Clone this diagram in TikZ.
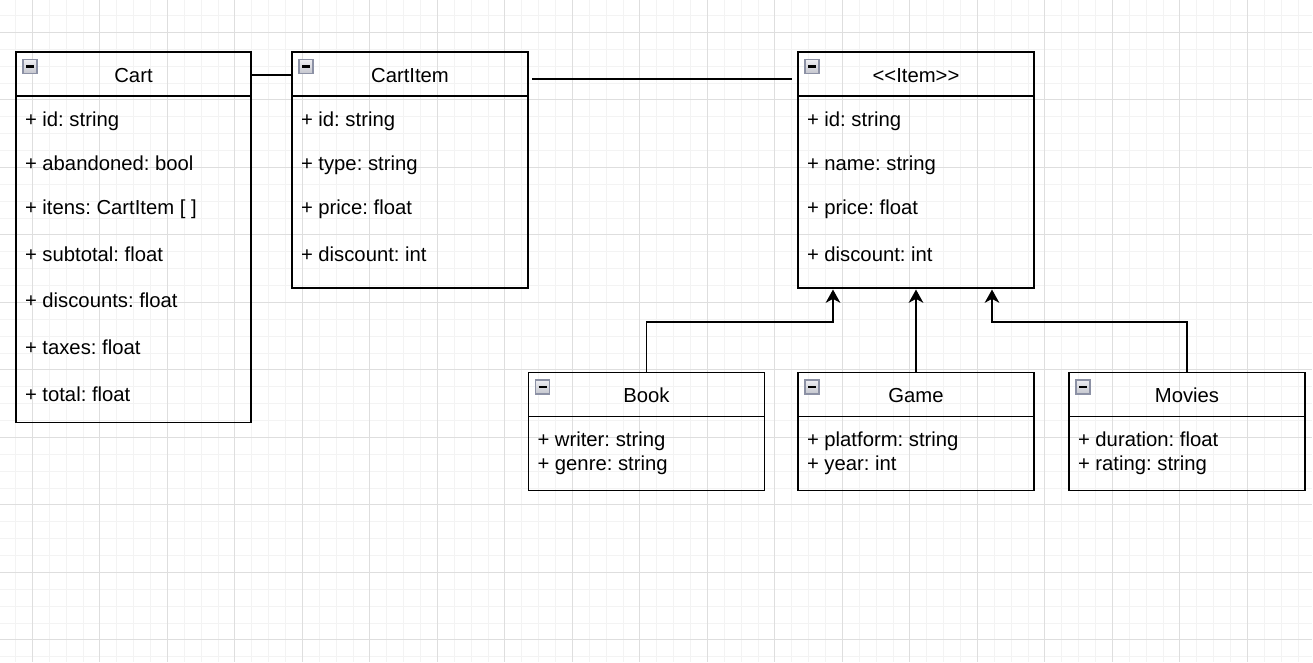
\documentclass[tikz,border=0pt]{standalone}
\usepackage{fontspec}
\setmainfont{Liberation Sans}
\usetikzlibrary{arrows.meta,calc}
\definecolor{gridminor}{RGB}{243,243,243}
\definecolor{gridmajor}{RGB}{222,222,222}
\definecolor{iconborder}{RGB}{140,145,165}
\definecolor{icontop}{RGB}{238,238,242}
\definecolor{iconbot}{RGB}{196,198,206}
\begin{document}
\frenchspacing
\begin{tikzpicture}[x=0.75pt,y=-0.75pt,
  every node/.style={font=\fontsize{15.2pt}{18pt}\selectfont\frenchspacing, inner sep=0pt, outer sep=0pt},
  classbox/.style={draw=black, line width=1.4pt, rectangle, anchor=north west},
  hdrbox/.style={draw=none, rectangle, anchor=north west, minimum height=33pt},
  hdrline/.style={line width=1.4pt},
  title/.style={anchor=base},
  attr/.style={anchor=base west},
  link/.style={line width=1.4pt},
  arr/.style={line width=1.4pt, -{Stealth[length=10pt,width=11pt,inset=3pt]}},
  cicon/.pic={
    \shade[top color=icontop, bottom color=iconbot, draw=iconborder, line width=1pt] (0,0) rectangle (14,14);
    \draw[line width=1.6pt, black] (3,7) -- (11,7);
  }]
\useasboundingbox (0,0) rectangle (1313,662);
% grid
\begin{scope}
\clip (0,0) rectangle (1312,662);
\foreach \i in {0,...,77} {
  \draw[gridminor, line width=0.75pt] ({15.5+16.875*\i},0) -- ({15.5+16.875*\i},662);
}
\foreach \i in {0,...,39} {
  \draw[gridminor, line width=0.75pt] (0,{15.5+16.875*\i}) -- (1312,{15.5+16.875*\i});
}
\foreach \i in {0,...,19} {
  \draw[gridmajor, line width=0.75pt] ({32.375+67.5*\i},0) -- ({32.375+67.5*\i},662);
}
\foreach \i in {0,...,9} {
  \draw[gridmajor, line width=0.75pt] (0,{32.375+67.5*\i}) -- (1312,{32.375+67.5*\i});
}
\end{scope}

% ---- Cart
\node[classbox, minimum width=176.25pt, minimum height=277.875pt] (cart) at (16,52) {};
\node[hdrbox, minimum width=176.25pt] (carth) at (16,52) {};
\draw[hdrline] (carth.south west) -- (carth.south east);
\pic at (23,59.5) {cicon};
\node[title] (cartt) at (133.5,82) {Cart};
\node[attr] (cart1) at (25,126) {+ id: string};
\node[attr] (cart2) at (25,170) {+ abandoned: bool};
\node[attr] (cart3) at (25,214.3) {+ itens: CartItem [ ]};
\node[attr] (cart4) at (25,261) {+ subtotal: float};
\node[attr] (cart5) at (25,307.7) {+ discounts: float};
\node[attr] (cart6) at (25,354.3) {+ taxes: float};
\node[attr] (cart7) at (25,401.7) {+ total: float};

% ---- CartItem
\node[classbox, minimum width=177pt, minimum height=177pt] (cartitem) at (292,52) {};
\node[hdrbox, minimum width=177pt] (cartitemh) at (292,52) {};
\draw[hdrline] (cartitemh.south west) -- (cartitemh.south east);
\pic at (299,59.5) {cicon};
\node[title] (cartitemt) at (410,82) {CartItem};
\node[attr] (ci1) at (301,126) {+ id: string};
\node[attr] (ci2) at (301,170) {+ type: string};
\node[attr] (ci3) at (301,214.3) {+ price: float};
\node[attr] (ci4) at (301,261) {+ discount: int};

% ---- Item
\node[classbox, minimum width=177pt, minimum height=177pt] (item) at (798,52) {};
\node[hdrbox, minimum width=177pt] (itemh) at (798,52) {};
\draw[hdrline] (itemh.south west) -- (itemh.south east);
\pic at (805,59.5) {cicon};
\node[title] (itemt) at (916,82) {<{}<Item>{}>};
\node[attr] (it1) at (807,126) {+ id: string};
\node[attr] (it2) at (807,170) {+ name: string};
\node[attr] (it3) at (807,214.3) {+ price: float};
\node[attr] (it4) at (807,261) {+ discount: int};

% ---- Book
\node[classbox, minimum width=177pt, minimum height=88.5pt] (book) at (528.5,372.5) {};
\node[hdrbox, minimum width=177pt] (bookh) at (528.5,372.5) {};
\draw[hdrline] (bookh.south west) -- (bookh.south east);
\pic at (535.5,380) {cicon};
\node[title] (bookt) at (646.5,402.5) {Book};
\node[attr] (bk1) at (537.5,446.5) {+ writer: string};
\node[attr] (bk2) at (537.5,470.5) {+ genre: string};

% ---- Game
\node[classbox, minimum width=177pt, minimum height=88.5pt] (game) at (798,372.5) {};
\node[hdrbox, minimum width=177pt] (gameh) at (798,372.5) {};
\draw[hdrline] (gameh.south west) -- (gameh.south east);
\pic at (805,380) {cicon};
\node[title] (gamet) at (916,402.5) {Game};
\node[attr] (gm1) at (807,446.5) {+ platform: string};
\node[attr] (gm2) at (807,470.5) {+ year: int};

% ---- Movies
\node[classbox, minimum width=177pt, minimum height=88.5pt] (movies) at (1069,372.5) {};
\node[hdrbox, minimum width=177pt] (moviesh) at (1069,372.5) {};
\draw[hdrline] (moviesh.south west) -- (moviesh.south east);
\pic at (1076,380) {cicon};
\node[title] (moviest) at (1187,402.5) {Movies};
\node[attr] (mv1) at (1078,446.5) {+ duration: float};
\node[attr] (mv2) at (1078,470.5) {+ rating: string};

% ---- connectors
\draw[link] ([yshift=-0.75pt]carth.east) -- ([yshift=-0.75pt]cartitemh.west);
\draw[link] ([xshift=3.2pt,yshift=-3.75pt]cartitemh.east) -- ([xshift=-4.5pt,yshift=-3.75pt]itemh.west);
\draw[arr] (book.north) |- ($(item.south)+(-83,34)$) -- ($(item.south)+(-83,1.5)$);
\draw[arr] (game.north) -- ($(item.south)+(0,1.5)$);
\draw[arr] (movies.north) |- ($(item.south)+(76,34)$) -- ($(item.south)+(76,1.5)$);
\end{tikzpicture}
\end{document}
